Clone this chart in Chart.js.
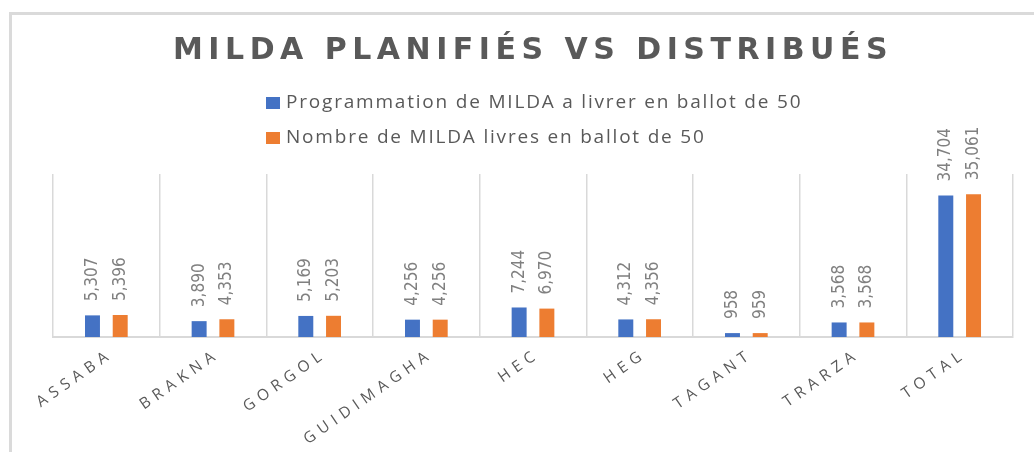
<!DOCTYPE html>
<html><head><meta charset="utf-8">
<script src="https://cdn.jsdelivr.net/npm/chart.js@4.4.1/dist/chart.umd.min.js"></script>
<style>html,body{margin:0;padding:0;background:#fff;overflow:hidden}</style>
</head><body><canvas id="c" width="1034" height="452"></canvas>
<script>
const categories = ['ASSABA','BRAKNA','GORGOL','GUIDIMAGHA','HEC','HEG','TAGANT','TRARZA','TOTAL'];
const seriesNames = ['Programmation de MILDA a livrer en ballot de 50','Nombre de MILDA livres en ballot de 50'];
const planned = [5307,3890,5169,4256,7244,4312,958,3568,34704];
const delivered = [5396,4353,5203,4256,6970,4356,959,3568,35061];
const yMin = 0, yMax = 40000;
const titleText = 'MILDA PLANIFIÉS VS DISTRIBUÉS';
const colors = ['#4472C4','#ED7D31'];

const framePlugin = {
  id:'frame',
  beforeDraw(chart){
    const c = chart.ctx;
    c.save();
    c.strokeStyle = '#dadada'; c.lineWidth = 3;
    c.beginPath(); c.moveTo(10.5, 460); c.lineTo(10.5, 13.5); c.lineTo(1040, 13.5); c.stroke();
    c.restore();
    const tb = chart.titleBlock;
    if (tb && !tb._ls) {
      const d = tb.draw;
      tb.draw = function(){ const x = this.ctx; x.save(); x.letterSpacing = '5.5px'; d.apply(this, arguments); x.restore(); };
      tb._ls = true;
    }
    const xs = chart.scales.x;
    if (xs && !xs._ls) {
      const d = xs.drawLabels;
      xs.drawLabels = function(){ const x = this.ctx; x.save(); x.letterSpacing = '5.5px'; x.translate(5, 0); d.apply(this, arguments); x.restore(); };
      xs._ls = true;
    }
  }
};

const legendPlugin = {
  id:'stackedLegend',
  afterDraw(chart){
    const c = chart.ctx;
    c.save();
    c.font = "19px 'Open Sans', sans-serif";
    c.textBaseline = 'middle';
    c.textAlign = 'left';
    c.letterSpacing = '1.8px';
    chart.data.datasets.forEach((ds, i) => {
      const y = 103 + i * 35;
      c.fillStyle = ds.backgroundColor;
      c.fillRect(266, y - 6, 14, 12);
      c.fillStyle = '#595959';
      c.fillText(ds.label, 286, y);
    });
    c.restore();
  }
};

const valueLabelPlugin = {
  id:'valueLabels',
  afterDatasetsDraw(chart){
    const c = chart.ctx;
    c.save();
    c.font = "17px 'Liberation Sans Narrow', 'DejaVu Sans Condensed', sans-serif";
    c.fillStyle = '#808080';
    chart.data.datasets.forEach((ds, i) => {
      const meta = chart.getDatasetMeta(i);
      meta.data.forEach((bar, j) => {
        const v = ds.data[j];
        c.save();
        c.translate(bar.x, bar.y - 14);
        c.rotate(-Math.PI / 2);
        c.textAlign = 'left';
        c.textBaseline = 'middle';
        c.fillText(v.toLocaleString('en-US'), 0, 0);
        c.restore();
      });
    });
    c.restore();
  }
};

new Chart(document.getElementById('c'), {
  type:'bar',
  data:{
    labels: categories,
    datasets:[
      {label: seriesNames[0], data: planned, backgroundColor: colors[0], categoryPercentage:0.52, barPercentage:0.54},
      {label: seriesNames[1], data: delivered, backgroundColor: colors[1], categoryPercentage:0.52, barPercentage:0.54}
    ]
  },
  options:{
    responsive:false,
    animation:false,
    devicePixelRatio:1,
    layout:{padding:{left:53, right:21, top:0, bottom:0}},
    plugins:{
      legend:{display:false},
      tooltip:{enabled:false},
      title:{display:true, text:titleText, color:'#595959',
        font:{family:"'DejaVu Sans'", size:30, weight:'bold', lineHeight:1.2},
        padding:{top:33, bottom:105}}
    },
    scales:{
      x:{
        grid:{offset:true, color:'#d9d9d9', lineWidth:1.5, drawTicks:false},
        border:{display:true, color:'#d9d9d9', width:2},
        ticks:{autoSkip:false, minRotation:35, maxRotation:35, padding:8, color:'#595959',
          font:{family:"'Open Sans'", size:15.5}},
        afterFit(s){ s.height = 115; }
      },
      y:{display:false, min:yMin, max:yMax}
    }
  },
  plugins:[framePlugin, legendPlugin, valueLabelPlugin]
});
</script>
</body></html>
